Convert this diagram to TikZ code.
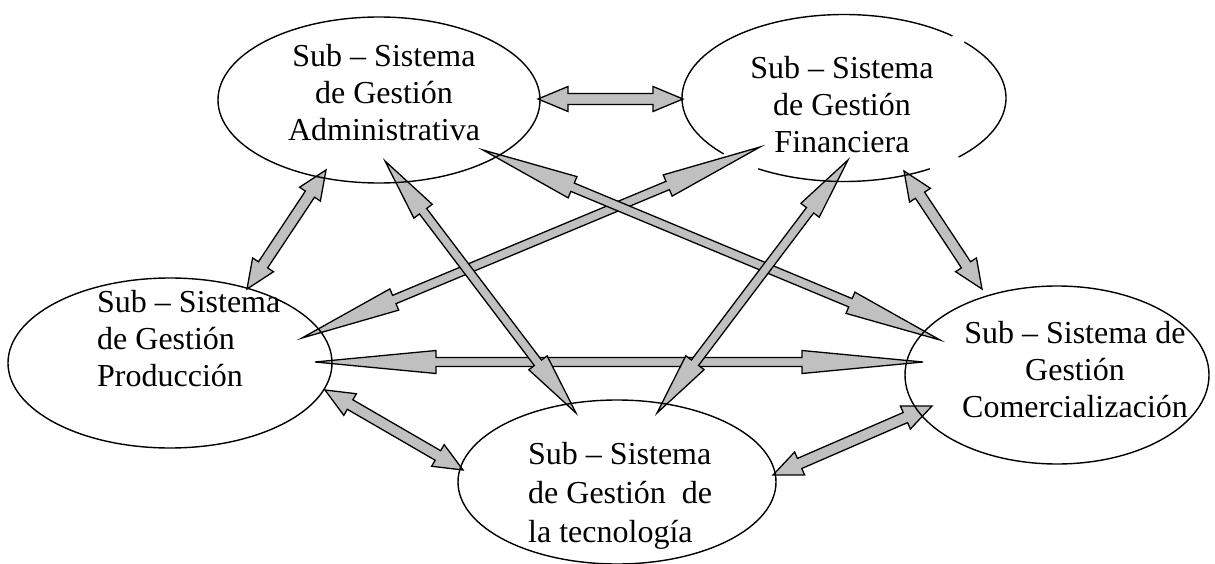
\documentclass[tikz,border=0pt]{standalone}
\usepackage{fontspec}
\setmainfont{Liberation Serif}
\usetikzlibrary{calc,shapes.geometric}
\definecolor{arrowgray}{RGB}{192,192,192}
\tikzset{
  ell/.style={draw, line width=1.4pt, ellipse, inner sep=0pt},
  elline/.style={line width=1.4pt},
  txt/.style={font=\fontsize{32}{37}\selectfont, inner sep=0pt},
  txtwide/.style={font=\fontsize{32}{39}\selectfont, inner sep=0pt},
  barrow/.style={draw, line width=1.3pt, fill=arrowgray, line join=miter},
}
\newcommand\dblarrow[5]{%
  \draw[barrow] (#1) -- ($(#1)!#3!(#2)!#4!-90:(#2)$) -- ($(#1)!#3!(#2)!#5!-90:(#2)$)
    -- ($(#2)!#3!(#1)!#5!90:(#1)$) -- ($(#2)!#3!(#1)!#4!90:(#1)$) -- (#2)
    -- ($(#2)!#3!(#1)!#4!-90:(#1)$) -- ($(#2)!#3!(#1)!#5!-90:(#1)$)
    -- ($(#1)!#3!(#2)!#5!90:(#2)$) -- ($(#1)!#3!(#2)!#4!90:(#2)$) -- cycle;}
\begin{document}
\begin{tikzpicture}[x=1pt,y=-1pt]
\fill[white] (0,0) rectangle (1215,564);
\useasboundingbox (0,0) rectangle (1215,564);
% arrow end points
\coordinate (a1) at (538,99);  \coordinate (a2) at (683,99);
\coordinate (b1) at (326,170); \coordinate (b2) at (247,289);
\coordinate (c1) at (325,390); \coordinate (c2) at (463,470);
\coordinate (d1) at (773,475); \coordinate (d2) at (932,406);
\coordinate (e1) at (904,171); \coordinate (e2) at (982,289);
\coordinate (f1) at (315,362); \coordinate (f2) at (923,362);
\coordinate (g1) at (302,338); \coordinate (g2) at (760,147);
\coordinate (h1) at (483,150); \coordinate (h2) at (940,340);
\coordinate (i1) at (385,161); \coordinate (i2) at (576,413);
\coordinate (j1) at (848,160); \coordinate (j2) at (657,413);
% short arrows
\dblarrow{a1}{a2}{30pt}{12.5pt}{5.5pt}
\dblarrow{b1}{b2}{29pt}{12.5pt}{5.5pt}
\dblarrow{c1}{c2}{29pt}{12.5pt}{5.5pt}
\dblarrow{d1}{d2}{29pt}{12.5pt}{5.5pt}
\dblarrow{e1}{e2}{29pt}{12.5pt}{5.5pt}
% long arrows
\dblarrow{f1}{f2}{121pt}{11.5pt}{4.5pt}
\dblarrow{g1}{g2}{100pt}{11.5pt}{4.5pt}
\dblarrow{h1}{h2}{97pt}{11.5pt}{4.5pt}
\dblarrow{i1}{i2}{63pt}{11.5pt}{4.5pt}
\dblarrow{j1}{j2}{63pt}{11.5pt}{4.5pt}
% ellipses
\node[ell, minimum width=322pt, minimum height=166pt] (adm) at (379,100) {};
\node[ellipse, inner sep=0pt, minimum width=324pt, minimum height=167pt] (fin) at (844,98) {};
\draw[elline] (fin.center) ++(-58:162pt and 83.5pt) arc[start angle=-58, end angle=-122, x radius=162pt, y radius=83.5pt];
\draw[elline] (fin.center) ++(-138:162pt and 83.5pt) arc[start angle=-138, end angle=-312, x radius=162pt, y radius=83.5pt];
\draw[elline] (fin.center) ++(-318:162pt and 83.5pt) arc[start angle=-318, end angle=-405, x radius=162pt, y radius=83.5pt];
\node[ell, minimum width=324pt, minimum height=170pt] (prod) at (170,363) {};
\node[ell, minimum width=318pt, minimum height=164pt] (tec) at (617,482) {};
\node[ell, minimum width=304pt, minimum height=178pt] (com) at (1057,375) {};
% texts
\node[txt, align=center, anchor=north] (admt) at (384,44) {Sub – Sistema\\de Gestión\\Administrativa};
\node[txt, align=center, anchor=north] (fint) at (842,56) {Sub – Sistema\\de Gestión\\Financiera};
\node[txt, align=left, anchor=north west] (prodt) at (97,290) {Sub – Sistema\\de Gestión\\Producción};
\node[txtwide, align=left, anchor=north west] (tect) at (528,442) {Sub – Sistema\\de Gestión~~de\\la tecnología};
\node[txt, align=center, anchor=north] (comt) at (1075,321) {Sub – Sistema de\\Gestión\\Comercialización};
\end{tikzpicture}
\end{document}
